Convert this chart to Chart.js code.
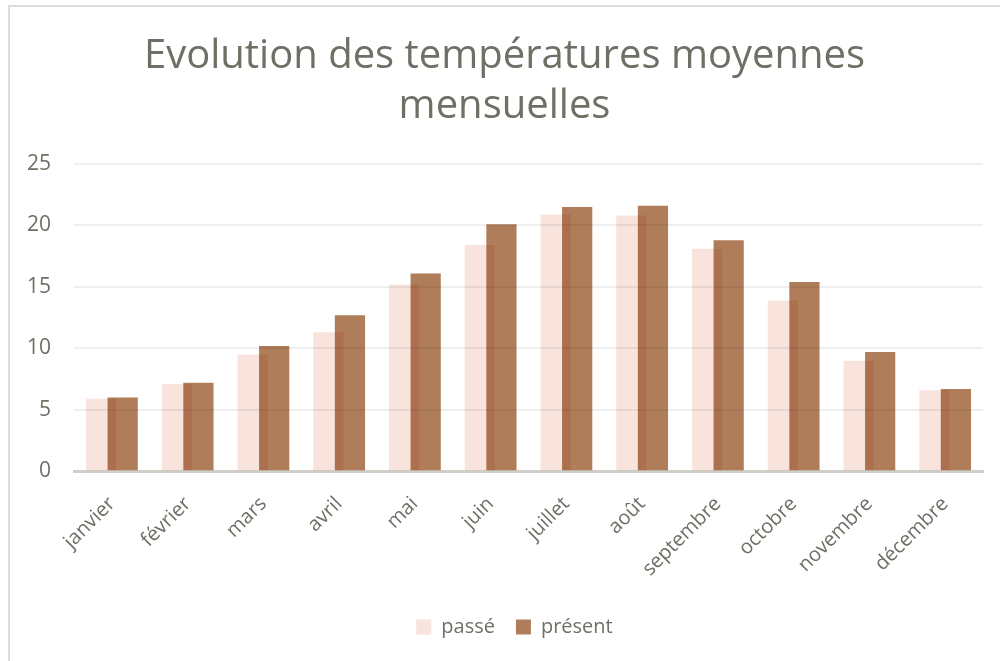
<!DOCTYPE html>
<html lang="fr">
<head>
<meta charset="utf-8">
<script src="https://cdn.jsdelivr.net/npm/chart.js@4"></script>
<style>
    html, body { margin: 0; padding: 0; background: #fff; }
    #wrap { position: relative; width: 1000px; height: 661px; overflow: hidden; }
    #frame { position: absolute; left: 8px; top: 5px; width: 1100px; height: 800px;
             border-left: 2px solid #dcdcdc; border-top: 2px solid #dcdcdc; }
    #chart { position: absolute; left: 0; top: 0; }
</style>
</head>
<body>
<div id="wrap">
    <div id="frame"></div>
    <canvas id="chart" width="1000" height="661"></canvas>
</div>
<script>
// Données
const mois = ['janvier', 'février', 'mars', 'avril', 'mai', 'juin', 'juillet', 'août', 'septembre', 'octobre', 'novembre', 'décembre'];
const passe = [5.9, 7.1, 9.5, 11.3, 15.2, 18.4, 20.9, 20.8, 18.1, 13.9, 9.0, 6.6];
const present = [6.0, 7.2, 10.2, 12.7, 16.1, 20.1, 21.5, 21.6, 18.8, 15.4, 9.7, 6.7];
const yTicks = [0, 5, 10, 15, 20, 25];

const textColor = '#6f6f66';
const fontFamily = '"Open Sans", sans-serif';

// les barres se chevauchent : on les mélange en "multiply" comme dans l'original
const multiplyBars = {
    id: 'multiplyBars',
    beforeDatasetsDraw(chart) {
        chart.ctx.save();
        chart.ctx.globalCompositeOperation = 'multiply';
    },
    afterDatasetsDraw(chart) {
        chart.ctx.restore();
    }
};

// titre et légende un peu décalés vers la droite, comme dans l'original
const shiftBlocks = {
    id: 'shiftBlocks',
    afterLayout(chart) {
        if (chart.legend) chart.legend.left += 42;
        if (chart.titleBlock) chart.titleBlock.left += 22;
    }
};

const ctx = document.getElementById('chart').getContext('2d');
new Chart(ctx, {
    type: 'bar',
    data: {
        labels: mois,
        datasets: [
            {
                label: 'passé',
                data: passe,
                backgroundColor: '#f9e4dd',
                borderWidth: 0,
                categoryPercentage: 0.57,
                barPercentage: 1.4
            },
            {
                label: 'présent',
                data: present,
                backgroundColor: '#b07d5a',
                borderWidth: 0,
                categoryPercentage: 0.57,
                barPercentage: 1.4
            }
        ]
    },
    options: {
        responsive: false,
        animation: false,
        layout: { padding: { left: 4, right: 17, top: 32, bottom: 14 } },
        scales: {
            y: {
                min: 0,
                max: 25,
                afterBuildTicks: axis => { axis.ticks = yTicks.map(v => ({ value: v })); },
                border: { display: false },
                grid: { color: '#efefef', lineWidth: 2, drawTicks: false },
                ticks: { color: textColor, font: { family: fontFamily, size: 21 }, padding: 23 }
            },
            x: {
                border: { color: '#cfcfc8', width: 3 },
                grid: { display: false },
                ticks: { color: textColor, font: { family: fontFamily, size: 20 }, maxRotation: 45, minRotation: 45, padding: 13 },
                // les étiquettes inclinées débordent à gauche sans décaler la zone de tracé
                afterFit: axis => {
                    axis.paddingLeft = 0;
                    axis.paddingRight = 0;
                    axis.height += 2;
                }
            }
        },
        plugins: {
            title: {
                display: true,
                text: ['Evolution des températures moyennes', 'mensuelles'],
                color: textColor,
                font: { family: fontFamily, size: 40, weight: 'normal', lineHeight: 1.25 },
                padding: { top: 0, bottom: 32 }
            },
            legend: {
                position: 'bottom',
                labels: {
                    color: textColor,
                    font: { family: fontFamily, size: 20 },
                    boxWidth: 15,
                    boxHeight: 15,
                    padding: 21
                }
            },
            tooltip: { enabled: false }
        }
    },
    plugins: [multiplyBars, shiftBlocks]
});
</script>
</body>
</html>
